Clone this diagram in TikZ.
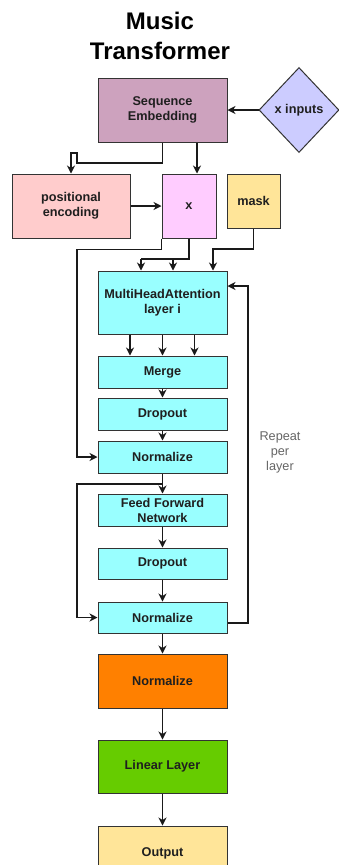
\documentclass[tikz,border=0pt]{standalone}
\usepackage{fontspec}
\setmainfont{Liberation Sans}
\usetikzlibrary{arrows.meta,shapes.geometric}
\definecolor{seqc}{HTML}{CDA2BE}
\definecolor{inpc}{HTML}{CCCCFF}
\definecolor{posc}{HTML}{FFCCCC}
\definecolor{xc}{HTML}{FFCCFF}
\definecolor{yelc}{HTML}{FFE599}
\definecolor{cyc}{HTML}{99FFFF}
\definecolor{orc}{HTML}{FF8000}
\definecolor{grc}{HTML}{66CC00}
\definecolor{linec}{HTML}{1A1A1A}
\tikzset{
  box/.style={draw=black!80, line width=1pt, rectangle, inner sep=0pt, align=center,
    text=black!88, font=\bfseries\fontsize{12.7}{15}\selectfont},
  wbox/.style={box, minimum width=129pt},
  arr/.style={draw=linec, line width=1.1pt, -{Stealth[length=8pt,width=8pt,inset=2.5pt]}},
  ln/.style={draw=linec, line width=1.1pt},
}
\begin{document}
\begin{tikzpicture}[x=1pt,y=-1pt]
\useasboundingbox (0,0) rectangle (339,865);
\clip (0,0) rectangle (339,865);
\fill[white] (0,0) rectangle (339,865);
% title
\node[anchor=base, font=\bfseries\fontsize{24}{30}\selectfont, inner sep=0pt] (t1) at (160,29.5) {Music};
\node[anchor=base, font=\bfseries\fontsize{24}{30}\selectfont, inner sep=0pt] (t2) at (160,59.5) {Transformer};
% nodes
\node[wbox, fill=seqc, minimum height=64pt] (seq) at (162.5,110) {Sequence\\Embedding};
\node[box, diamond, fill=inpc, minimum width=80pt, minimum height=85pt] (inp) at (299,110) {x inputs};
\node[box, fill=posc, minimum width=118pt, minimum height=64pt] (pos) at (71,206) {positional\\encoding};
\node[box, fill=xc, minimum width=54pt, minimum height=64pt] (xb) at (189,206) {x};
\node[box, fill=yelc, minimum width=53pt, minimum height=54pt] (mask) at (253.5,201) {mask};
\node[wbox, fill=cyc, minimum height=63pt] (mha) at (162.5,302.5) {MultiHeadAttention\\layer i};
\node[wbox, fill=cyc, minimum height=32pt] (merge) at (162.5,372) {Merge};
\node[wbox, fill=cyc, minimum height=32pt] (dropa) at (162.5,414) {Dropout};
\node[wbox, fill=cyc, minimum height=32pt] (norma) at (162.5,457) {Normalize};
\node[wbox, fill=cyc, minimum height=32pt] (ffn) at (162.5,510) {Feed Forward\\Network};
\node[wbox, fill=cyc, minimum height=31pt] (dropb) at (162.5,563.5) {Dropout};
\node[wbox, fill=cyc, minimum height=31pt] (normb) at (162.5,617.5) {Normalize};
\node[wbox, fill=orc, minimum height=54pt] (normc) at (162.5,681) {Normalize};
\node[wbox, fill=grc, minimum height=53pt] (lin) at (162.5,766.5) {Linear Layer};
\node[wbox, fill=yelc, minimum height=54pt] (out) at (162.5,853) {Output};
\node[align=center, text=black!60, font=\fontsize{12.7}{15}\selectfont, inner sep=0pt] (rep) at (280,452) {Repeat\\per\\layer};
% helper coordinates
\coordinate (j1) at (77,163);
\coordinate (j2) at (77,153);
\coordinate (xr) at (197,0);
\coordinate (r1) at (77,300);
\coordinate (a1) at (141,259);
\coordinate (a2) at (173,259);
\coordinate (m1) at (213,249);
\coordinate (r2) at (162.5,484);
\coordinate (r3) at (77,550);
\coordinate (l0) at (0,623);
\coordinate (l1) at (248,286);
% connectors
\draw[arr] (inp.west) -- (seq.east);
\draw[arr] (seq.south) |- (j1) -- (j2) -| (pos.north);
\draw[arr] (seq.south -| xr) -- (xr |- xb.north);
\draw[arr] (pos.east) -- (pos.east -| xb.west);
\draw[arr] (xb.south west) -- ++(0,11) -| (r1) |- (norma.west);
\draw[ln] (xb.south) |- (a1);
\draw[arr] (a1) -- (a1 |- mha.north);
\draw[arr] (a2) -- (a2 |- mha.north);
\draw[arr] (mask.south) |- (m1) -- (m1 |- mha.north);
\draw[arr] ([xshift=-32.5pt]mha.south) -- ([xshift=-32.5pt]merge.north);
\draw[arr] (mha.south) -- (merge.north);
\draw[arr] ([xshift=32pt]mha.south) -- ([xshift=32pt]merge.north);
\draw[arr] (merge) -- (dropa);
\draw[arr] (dropa) -- (norma);
\draw[arr] (norma) -- (ffn);
\draw[arr] (r2) -| (r3) |- (normb.west);
\draw[arr] (ffn) -- (dropb);
\draw[arr] (dropb) -- (normb);
\draw[arr] (normb.east |- l0) -| (l1) -- (l1 -| mha.east);
\draw[arr] (normb) -- (normc);
\draw[arr] (normc) -- (lin);
\draw[arr] (lin) -- (out);
\end{tikzpicture}
\end{document}
